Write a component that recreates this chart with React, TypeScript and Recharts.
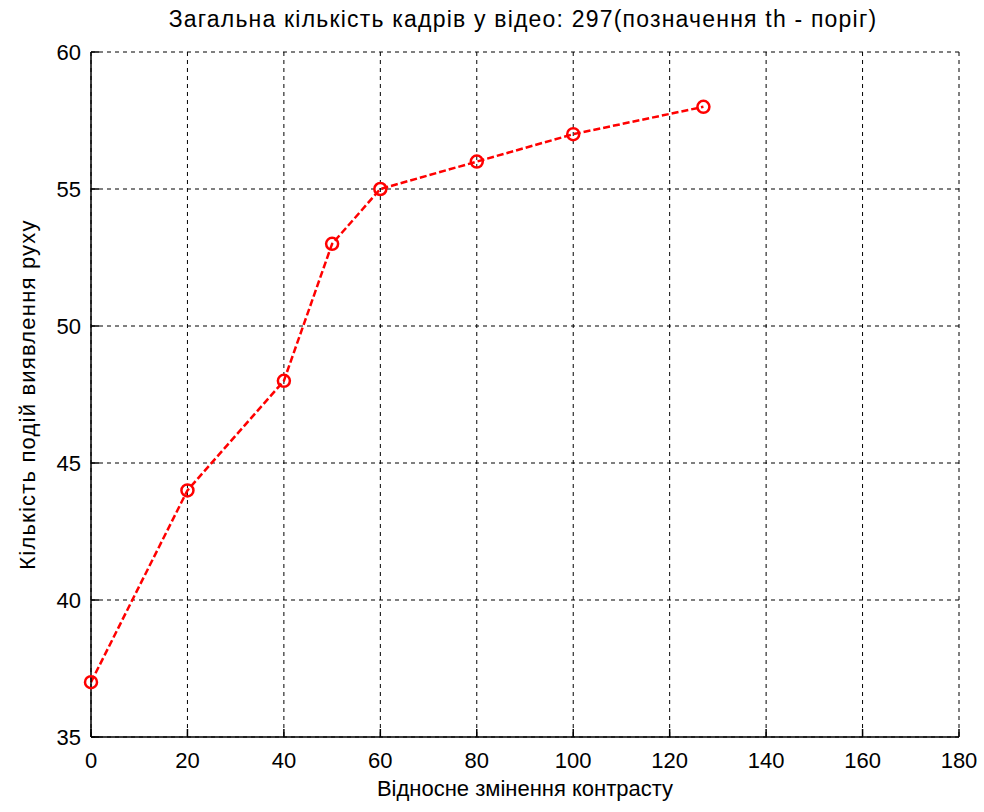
import React from "react";
import {
  CartesianGrid,
  Label,
  Line,
  LineChart,
  XAxis,
  YAxis,
} from "recharts";

const contrast = [0, 20, 40, 50, 60, 80, 100, 127];
const events = [37, 44, 48, 53, 55, 56, 57, 58];
const xTicks = [0, 20, 40, 60, 80, 100, 120, 140, 160, 180];
const yTicks = [35, 40, 45, 50, 55, 60];

const data = contrast.map((x, i) => ({ x, y: events[i] }));

const FONT = "'Liberation Sans', Arial, sans-serif";
const blank = () => "";

export default function App() {
  return (
    <div style={{ position: "absolute", left: 0, top: 0, background: "#fff" }}>
      <div
        style={{
          position: "absolute",
          left: 0,
          width: 1046,
          top: 6,
          textAlign: "center",
          fontFamily: FONT,
          fontSize: 23,
          letterSpacing: 1.2,
          color: "#000",
          whiteSpace: "nowrap",
        }}
      >
        Загальна кількість кадрів у відео: 297(позначення th - поріг)
      </div>
      <LineChart
        width={984}
        height={812}
        data={data}
        margin={{ top: 52, right: 25, bottom: 45, left: 31 }}
        style={{ fontFamily: FONT }}
      >
        <CartesianGrid
          stroke="#000"
          strokeDasharray="4 4"
          strokeWidth={1}
          verticalValues={xTicks}
          horizontalValues={yTicks}
        />
        <XAxis
          dataKey="x"
          type="number"
          domain={[0, 180]}
          ticks={xTicks}
          interval={0}
          height={30}
          stroke="#000"
          strokeWidth={1.5}
          tickSize={-8}
          tickMargin={23}
          tick={{ fill: "#000", fontSize: 22 }}
        >
          <Label
            value="Відносне змінення контрасту"
            position="bottom"
            offset={13}
            style={{ fill: "#000", fontSize: 22 }}
          />
        </XAxis>
        <XAxis
          xAxisId="top"
          orientation="top"
          dataKey="x"
          type="number"
          domain={[0, 180]}
          ticks={xTicks}
          height={0}
          stroke="#000"
          strokeWidth={1.5}
          tickSize={-8}
          tickFormatter={blank}
        />
        <YAxis
          type="number"
          domain={[35, 60]}
          ticks={yTicks}
          interval={0}
          width={60}
          stroke="#000"
          strokeWidth={1.5}
          tickSize={-8}
          tickMargin={18}
          tick={{ fill: "#000", fontSize: 22 }}
        >
          <Label
            value="Кількість подій виявлення руху"
            angle={-90}
            position="insideLeft"
            offset={-4}
            style={{ fill: "#000", fontSize: 22, letterSpacing: 1.2, textAnchor: "middle" }}
          />
        </YAxis>
        <YAxis
          yAxisId="right"
          orientation="right"
          type="number"
          domain={[35, 60]}
          ticks={yTicks}
          width={0}
          stroke="#000"
          strokeWidth={1.5}
          tickSize={-8}
          tickFormatter={blank}
        />
        <Line
          dataKey="y"
          stroke="#ff0000"
          strokeWidth={2.5}
          strokeDasharray="7 3"
          isAnimationActive={false}
          dot={{ r: 6, stroke: "#ff0000", strokeWidth: 2.5, fill: "none", strokeDasharray: "" }}
        />
      </LineChart>
    </div>
  );
}
